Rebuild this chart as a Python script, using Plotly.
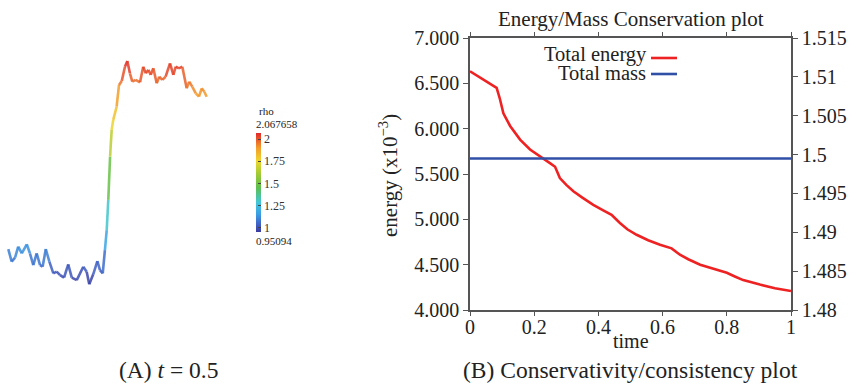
import plotly.graph_objects as go
from plotly.colors import sample_colorscale

W, H = 859, 385
FONT = "Liberation Serif"

# ---------------- data: panel A (rho along the line at t = 0.5) ----------------
pos = [0.000, 0.017, 0.034, 0.050, 0.068, 0.093, 0.109, 0.126, 0.143, 0.160,
       0.173, 0.189, 0.207, 0.227, 0.244, 0.261, 0.281, 0.302, 0.320, 0.345,
       0.378, 0.395, 0.408, 0.428, 0.449, 0.462, 0.476, 0.487, 0.496, 0.504,
       0.513, 0.521, 0.529, 0.546, 0.558, 0.572, 0.588, 0.600, 0.613, 0.625,
       0.642, 0.664, 0.680, 0.693, 0.706, 0.718, 0.731, 0.748, 0.761, 0.776,
       0.793, 0.815, 0.832, 0.844, 0.860, 0.877, 0.899, 0.912, 0.927, 0.945,
       0.961, 0.975, 0.988, 1.000]
rho = [1.127, 1.064, 1.084, 1.139, 1.106, 1.151, 1.106, 1.047, 1.106, 1.047,
       1.039, 1.127, 1.064, 1.006, 1.014, 0.997, 0.984, 1.051, 0.984, 0.972,
       1.039, 1.014, 0.95094, 1.001, 1.067, 1.022, 1.006, 1.122, 1.222, 1.373,
       1.589, 1.723, 1.773, 1.839, 1.948, 1.968, 2.039, 2.067658, 2.006, 1.964,
       1.973, 1.961, 2.039, 2.006, 2.023, 1.998, 2.031, 1.956, 1.989, 1.973,
       1.989, 2.056, 1.998, 2.039, 2.031, 2.039, 1.931, 1.964, 1.939, 1.906,
       1.889, 1.931, 1.914, 1.889]
cbar_ticks = [1, 1.25, 1.5, 1.75, 2]

# ---------------- data: panel B (conservation) ----------------
time = [0.0, 0.083, 0.093, 0.104, 0.125, 0.156, 0.187, 0.218, 0.249, 0.265,
        0.28, 0.30, 0.322, 0.35, 0.384, 0.415, 0.441, 0.467, 0.49, 0.519,
        0.555, 0.592, 0.628, 0.654, 0.68, 0.717, 0.76, 0.80, 0.825, 0.851,
        0.903, 0.95, 1.0]
energy = [6.633, 6.45, 6.33, 6.17, 6.03, 5.88, 5.77, 5.69, 5.62, 5.58,
          5.455, 5.38, 5.31, 5.24, 5.16, 5.10, 5.05, 4.96, 4.89, 4.83,
          4.77, 4.72, 4.68, 4.61, 4.56, 4.50, 4.455, 4.41, 4.37, 4.33,
          4.28, 4.24, 4.21]
mass_time = [0.0, 0.25, 0.5, 0.75, 1.0]
mass = [1.4995, 1.4995, 1.4995, 1.4995, 1.4995]
energy_ticks = [4.0, 4.5, 5.0, 5.5, 6.0, 6.5, 7.0]
mass_ticks = [1.48, 1.485, 1.49, 1.495, 1.5, 1.505, 1.51, 1.515]
mass_ticktext = ["1.48", "1.485", "1.49", "1.495", "1.5", "1.505", "1.51", "1.515"]
time_ticks = [0, 0.2, 0.4, 0.6, 0.8, 1]

JET = [[0.0, "#3a3a9e"], [0.08, "#3f62c6"], [0.18, "#3a9fe4"], [0.30, "#42c6d6"],
       [0.45, "#5dbf4c"], [0.60, "#a9cc32"], [0.72, "#efd52f"], [0.85, "#f39c2a"],
       [1.0, "#e0262a"]]


def px_x(p):
    return p / W


def px_y(p):
    return 1 - p / H


fig = go.Figure()

# ---- panel A: line coloured by rho ----
rmin, rmax = min(rho), max(rho)
for i in range(len(pos) - 1):
    mid = 0.5 * (rho[i] + rho[i + 1])
    col = sample_colorscale(JET, [(mid - rmin) / (rmax - rmin)])[0]
    fig.add_trace(go.Scatter(
        x=pos[i:i + 2], y=rho[i:i + 2], mode="lines",
        line=dict(color=col, width=2.6), opacity=0.85,
        showlegend=False, hoverinfo="skip", xaxis="x", yaxis="y"))

fig.add_trace(go.Scatter(
    x=pos, y=rho, mode="markers", showlegend=False, hoverinfo="skip",
    marker=dict(size=1, opacity=0, color=rho, colorscale=JET, cmin=rmin, cmax=rmax,
                showscale=True,
                colorbar=dict(
                    x=px_x(256), xanchor="left", xpad=0, ypad=0,
                    y=px_y(182.5), yanchor="middle",
                    len=99, lenmode="pixels", thickness=5, thicknessmode="pixels",
                    outlinewidth=0, tickvals=cbar_ticks,
                    ticktext=[str(v) for v in cbar_ticks],
                    ticks="inside", ticklen=3, tickcolor="#444", tickwidth=1,
                    tickfont=dict(family=FONT, size=12, color="#333"))),
    xaxis="x", yaxis="y"))

# ---- panel B ----
fig.add_trace(go.Scatter(x=time, y=energy, mode="lines", name="Total energy",
                         line=dict(color="#ee2222", width=2.6),
                         showlegend=False, xaxis="x2", yaxis="y2"))
fig.add_trace(go.Scatter(x=mass_time, y=mass, mode="lines", name="Total mass",
                         line=dict(color="#3050a8", width=2.6),
                         showlegend=False, xaxis="x2", yaxis="y3"))

axis_col = "#555555"
tickfont = dict(family=FONT, size=20, color="#222")

fig.update_layout(
    width=W, height=H, margin=dict(l=0, r=0, t=0, b=0, autoexpand=False),
    paper_bgcolor="white", plot_bgcolor="white",
    font=dict(family=FONT, color="#222"),
    xaxis=dict(domain=[px_x(4.33), px_x(210.67)], range=[-0.02, 1.02], visible=False),
    yaxis=dict(domain=[px_y(294.5), px_y(50.5)], range=[0.9, 2.12], visible=False),
    xaxis2=dict(domain=[px_x(470), px_x(791)], range=[0, 1], anchor="y2",
                tickvals=time_ticks, ticks="outside", ticklen=4, tickcolor=axis_col,
                ticklabelstandoff=-6,
                showline=True, linecolor=axis_col, linewidth=1.5, mirror="ticks",
                showgrid=False, zeroline=False, tickfont=tickfont),
    yaxis2=dict(domain=[px_y(310), px_y(38)], range=[4.0, 7.0], anchor="x2",
                tickvals=energy_ticks, tickformat=".3f", ticks="outside", ticklen=5,
                tickcolor=axis_col, showline=True, linecolor=axis_col, linewidth=1.5,
                showgrid=False, zeroline=False, tickfont=tickfont),
    yaxis3=dict(domain=[px_y(310), px_y(38)], range=[1.48, 1.515], anchor="x2",
                overlaying="y2", side="right", tickvals=mass_ticks, ticktext=mass_ticktext,
                ticks="outside", ticklen=5, tickcolor=axis_col, showline=True,
                linecolor=axis_col, linewidth=1.5, showgrid=False, zeroline=False,
                tickfont=tickfont),
)

ann = []


def add_text(text, x, y, size, xanchor="center", yanchor="middle", angle=0):
    ann.append(dict(text=text, x=px_x(x), y=px_y(y), xref="paper", yref="paper",
                    xanchor=xanchor, yanchor=yanchor, showarrow=False, textangle=angle,
                    font=dict(family=FONT, size=size, color="#222")))


# colorbar labels
add_text("rho", 266, 111, 11)
add_text("2.067658", 254, 124, 11, xanchor="left")
add_text("0.95094", 254, 241, 11, xanchor="left")

# panel B texts
add_text("Energy/Mass Conservation plot", 630.5, 19, 21)
add_text("Total energy", 649, 54, 20.5, xanchor="right")
add_text("Total mass", 648, 73, 20.5, xanchor="right")
add_text("energy (x10<sup>−3</sup>)", 389, 176, 21, angle=-90)
add_text("mass", 851, 150, 21, xanchor="left", angle=-90)
add_text("time", 630.5, 341, 20)

# captions
add_text("(A) <i>t</i> = 0.5", 168, 385, 23.5, yanchor="bottom")
add_text("(B) Conservativity/consistency plot", 630, 385, 23.5, yanchor="bottom")

fig.update_layout(annotations=ann)

# legend sample lines (decoration)
fig.add_shape(type="line", xref="paper", yref="paper", x0=px_x(651), x1=px_x(677),
              y0=px_y(58), y1=px_y(58), line=dict(color="#ee2222", width=2.6))
fig.add_shape(type="line", xref="paper", yref="paper", x0=px_x(651), x1=px_x(677),
              y0=px_y(74), y1=px_y(74), line=dict(color="#3050a8", width=2.6))

fig.write_html("out.html", config={"displayModeBar": False},
               post_script="document.body.style.margin='0px';")
